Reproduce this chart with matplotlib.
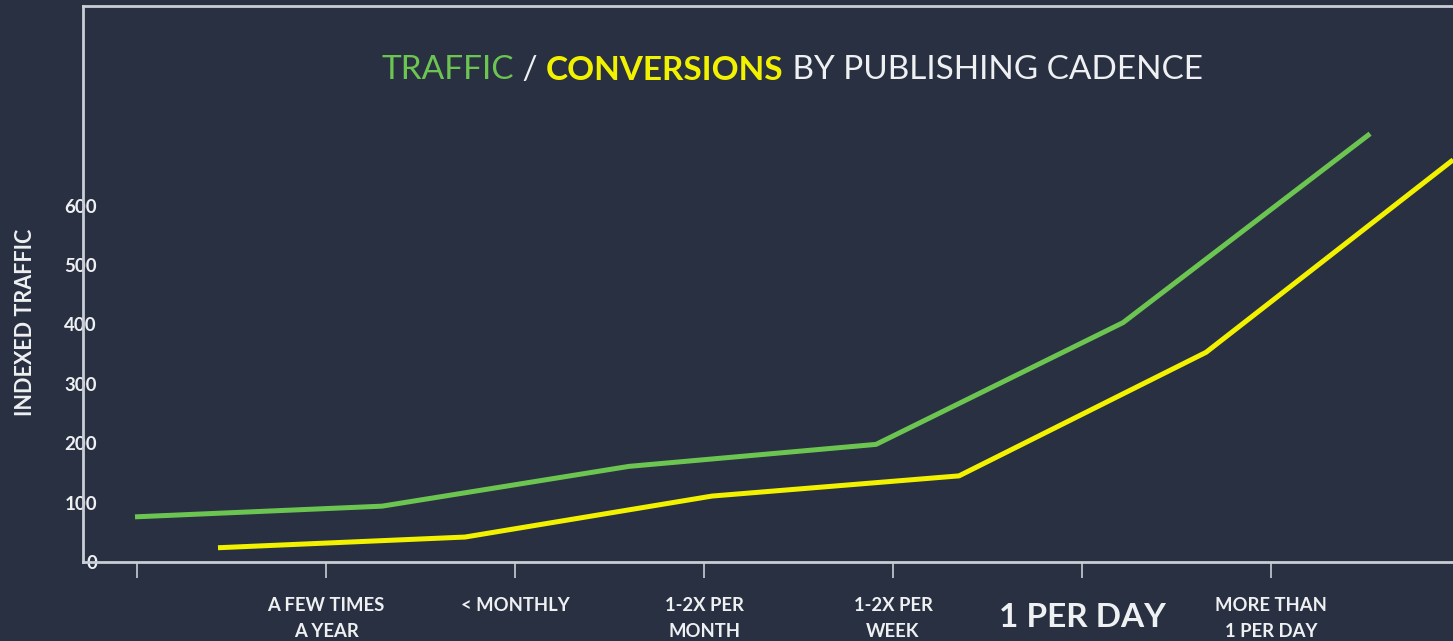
import numpy as np
import matplotlib
matplotlib.use('Agg')
import matplotlib.pyplot as plt

# data
cadence = ['', 'A FEW TIMES\nA YEAR', '< MONTHLY', '1-2X PER\nMONTH',
           '1-2X PER\nWEEK', '1 PER DAY', 'MORE THAN\n1 PER DAY']
traffic = [76, 94, 161, 198, 403, 721]
conversions = [24, 42, 111, 145, 353, 677]
yticks = [0, 100, 200, 300, 400, 500, 600]

BG = '#283041'
GREEN = '#6cc551'
YELLOW = '#f2f200'
AXIS = '#c9cdd5'
TXT = '#eef0f2'
FONT = 'Lato'

plt.rcParams['font.family'] = [FONT, 'DejaVu Sans']

fig = plt.figure(figsize=(14.53, 6.41), dpi=100, facecolor=BG)
W, H = 1453., 641.

def px(x0, y0, x1, y1):
    return [x0 / W, 1 - y1 / H, (x1 - x0) / W, (y1 - y0) / H]

rect = px(83, 6, 1460, 562)
ax = fig.add_axes(rect, facecolor=BG)
ax.set_xlim(-0.286, 7.0)
ax.set_ylim(0, 936)
for s in ['left', 'top', 'bottom']:
    ax.spines[s].set_color(AXIS)
    ax.spines[s].set_linewidth(2.0)
ax.spines['right'].set_visible(False)

ax.set_xticks(range(len(cadence)))
ax.set_xticklabels([])
ax.tick_params(axis='x', length=11.5, width=1.2, color=AXIS, direction='out')
ax.set_yticks(yticks)
ax.set_yticklabels([str(v) for v in yticks], fontweight='bold')
ax.tick_params(axis='y', length=0, pad=-10, labelsize=13.5, labelcolor=TXT)

# category labels under the ticks
xt = ax.get_xaxis_transform()
for i, lab in enumerate(cadence):
    if not lab:
        continue
    if lab == '1 PER DAY':
        ax.text(i, -0.1, lab, transform=xt, ha='center', va='center',
                color=TXT, fontsize=24, fontweight='bold')
    else:
        ax.text(i, -0.0625, lab, transform=xt, ha='center', va='top',
                color=TXT, fontsize=13.3, fontweight='bold', linespacing=1.65)

# the lines sit on their own category scale
ax2 = ax.twiny()
ax2.set_xlim(-0.2105, 5.364)
ax2.set_ylim(0, 936)
ax2.axis('off')
idx = np.arange(len(traffic))
ax2.plot(idx, traffic, color=GREEN, lw=3.6, solid_capstyle='butt',
         solid_joinstyle='round')
ax2.plot(idx + 0.336, conversions, color=YELLOW, lw=3.6,
         solid_capstyle='butt', solid_joinstyle='round')

fig.text(26 / W, 1 - 322 / H, 'INDEXED TRAFFIC', rotation=90, ha='center',
         va='center', color=TXT, fontsize=15.5, fontweight='bold')

# multi-colour title
parts = [('TRAFFIC', GREEN, 'normal'), (' / ', TXT, 'normal'),
         ('CONVERSIONS', YELLOW, 'bold'), (' BY PUBLISHING CADENCE', TXT, 'normal')]
fig.canvas.draw()
r = fig.canvas.get_renderer()
texts = []
for s, c, wgt in parts:
    t = fig.text(0, 1 - 70 / H, s, color=c, fontsize=24, fontweight=wgt,
                 va='center', ha='left')
    texts.append(t)
widths = [t.get_window_extent(r).width for t in texts]
x = 792 - sum(widths) / 2
for t, w in zip(texts, widths):
    t.set_x(x / W)
    x += w

fig.savefig('out.png', dpi=100, facecolor=BG)
